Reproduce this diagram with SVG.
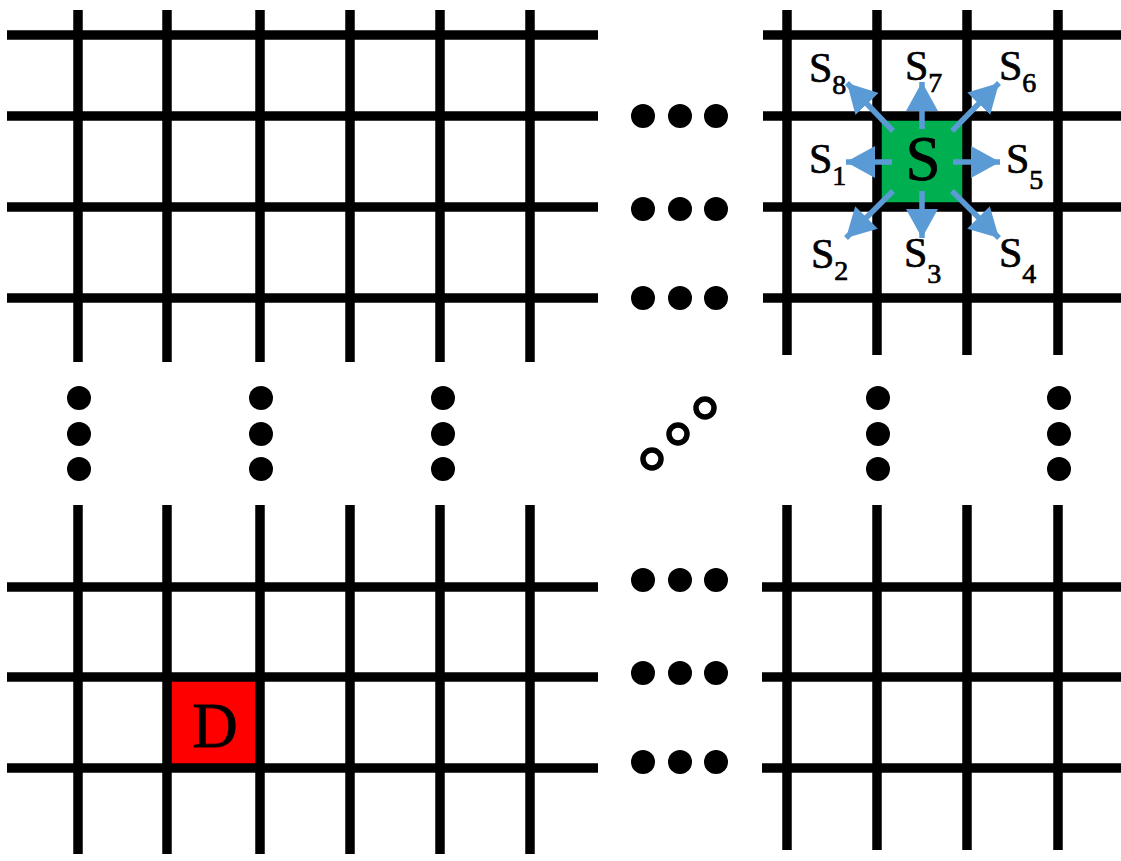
<svg xmlns="http://www.w3.org/2000/svg" width="1121" height="861" viewBox="0 0 1121 861">
<style>
.g line{stroke:#000;stroke-width:9.5;}
.dot{fill:#000;}
.ring{fill:none;stroke:#000;stroke-width:5.5;}
.lbl{font-family:"Liberation Serif","Times New Roman",serif;font-size:42px;fill:#000;stroke:#000;stroke-width:0.7px;}
.sub{font-size:28px;}
.big{font-family:"Liberation Serif","Times New Roman",serif;font-size:63px;fill:#000;stroke:#000;stroke-width:0.8px;text-anchor:middle;}
.arr{stroke:#5B9BD5;stroke-width:5.5;marker-end:url(#ah);}
</style>
<defs>
<marker id="ah" markerUnits="userSpaceOnUse" markerWidth="30" markerHeight="32" refX="29" refY="16" orient="auto">
<path d="M0,0 L29,16 L0,32 Z" fill="#5B9BD5"/>
</marker>
</defs>
<rect width="1121" height="861" fill="#fff"/>

<g id="cell-S-bg"><rect x="877" y="116" width="90" height="91" fill="#00B050"/></g>
<g id="cell-D-bg"><rect x="167" y="677" width="93" height="91" fill="#FF0000"/></g>

<g id="grid-top-left" class="g">
<line x1="7" y1="35" x2="598" y2="35"/>
<line x1="7" y1="116" x2="598" y2="116"/>
<line x1="7" y1="207" x2="598" y2="207"/>
<line x1="7" y1="298" x2="598" y2="298"/>
<line x1="78" y1="10" x2="78" y2="362"/>
<line x1="167" y1="10" x2="167" y2="362"/>
<line x1="260" y1="10" x2="260" y2="362"/>
<line x1="350" y1="10" x2="350" y2="362"/>
<line x1="440" y1="10" x2="440" y2="362"/>
<line x1="530" y1="10" x2="530" y2="362"/>
</g>

<g id="grid-top-right" class="g">
<line x1="763" y1="35" x2="1121" y2="35"/>
<line x1="763" y1="116" x2="1121" y2="116"/>
<line x1="763" y1="207" x2="1121" y2="207"/>
<line x1="763" y1="298" x2="1121" y2="298"/>
<line x1="787" y1="10" x2="787" y2="355"/>
<line x1="877" y1="10" x2="877" y2="355"/>
<line x1="967" y1="10" x2="967" y2="355"/>
<line x1="1058" y1="10" x2="1058" y2="355"/>
</g>

<g id="grid-bottom-left" class="g">
<line x1="7" y1="587" x2="598" y2="587"/>
<line x1="7" y1="677" x2="598" y2="677"/>
<line x1="7" y1="768" x2="598" y2="768"/>
<line x1="78" y1="505" x2="78" y2="854"/>
<line x1="167" y1="505" x2="167" y2="854"/>
<line x1="260" y1="505" x2="260" y2="854"/>
<line x1="350" y1="505" x2="350" y2="854"/>
<line x1="440" y1="505" x2="440" y2="854"/>
<line x1="530" y1="505" x2="530" y2="854"/>
</g>

<g id="grid-bottom-right" class="g">
<line x1="762" y1="587" x2="1121" y2="587"/>
<line x1="762" y1="677" x2="1121" y2="677"/>
<line x1="762" y1="768" x2="1121" y2="768"/>
<line x1="787" y1="505" x2="787" y2="850"/>
<line x1="877" y1="505" x2="877" y2="850"/>
<line x1="967" y1="505" x2="967" y2="850"/>
<line x1="1058" y1="505" x2="1058" y2="850"/>
</g>

<g id="dots-top-middle">
<circle class="dot" cx="643" cy="116" r="12"/><circle class="dot" cx="680" cy="116" r="12"/><circle class="dot" cx="716" cy="116" r="12"/>
<circle class="dot" cx="643" cy="209" r="12"/><circle class="dot" cx="680" cy="209" r="12"/><circle class="dot" cx="716" cy="209" r="12"/>
<circle class="dot" cx="643" cy="298" r="12"/><circle class="dot" cx="680" cy="298" r="12"/><circle class="dot" cx="716" cy="298" r="12"/>
</g>
<g id="dots-bottom-middle">
<circle class="dot" cx="643" cy="580" r="12"/><circle class="dot" cx="680" cy="580" r="12"/><circle class="dot" cx="716" cy="580" r="12"/>
<circle class="dot" cx="643" cy="673" r="12"/><circle class="dot" cx="680" cy="673" r="12"/><circle class="dot" cx="716" cy="673" r="12"/>
<circle class="dot" cx="643" cy="762" r="12"/><circle class="dot" cx="680" cy="762" r="12"/><circle class="dot" cx="716" cy="762" r="12"/>
</g>
<g id="dots-vertical">
<circle class="dot" cx="79" cy="398" r="12"/><circle class="dot" cx="79" cy="434" r="12"/><circle class="dot" cx="79" cy="469" r="12"/>
<circle class="dot" cx="261" cy="398" r="12"/><circle class="dot" cx="261" cy="434" r="12"/><circle class="dot" cx="261" cy="469" r="12"/>
<circle class="dot" cx="443" cy="398" r="12"/><circle class="dot" cx="443" cy="434" r="12"/><circle class="dot" cx="443" cy="469" r="12"/>
<circle class="dot" cx="878" cy="398" r="12"/><circle class="dot" cx="878" cy="434" r="12"/><circle class="dot" cx="878" cy="469" r="12"/>
<circle class="dot" cx="1059" cy="398" r="12"/><circle class="dot" cx="1059" cy="434" r="12"/><circle class="dot" cx="1059" cy="469" r="12"/>
</g>
<g id="dots-diagonal">
<circle class="ring" cx="705" cy="408" r="9"/>
<circle class="ring" cx="678" cy="434" r="9"/>
<circle class="ring" cx="652" cy="459" r="9"/>
</g>

<g id="connectors">
<line class="arr" x1="892" y1="162" x2="846" y2="162"/>
<line class="arr" x1="953" y1="162" x2="1000" y2="162"/>
<line class="arr" x1="922" y1="129" x2="922" y2="82"/>
<line class="arr" x1="922" y1="191" x2="922" y2="238"/>
<line class="arr" x1="893" y1="131" x2="847" y2="83"/>
<line class="arr" x1="952" y1="131" x2="999" y2="83"/>
<line class="arr" x1="893" y1="191" x2="846" y2="238"/>
<line class="arr" x1="952" y1="191" x2="999" y2="238"/>
</g>

<g id="node-S"><text class="big" x="923" y="180">S</text></g>
<g id="node-D"><text class="big" x="215" y="747">D</text></g>

<g id="label-S8"><text class="lbl" x="809" y="82">S<tspan class="sub" dy="12">8</tspan></text></g>
<g id="label-S7"><text class="lbl" x="905" y="80">S<tspan class="sub" dy="12">7</tspan></text></g>
<g id="label-S6"><text class="lbl" x="999" y="80">S<tspan class="sub" dy="12">6</tspan></text></g>
<g id="label-S1"><text class="lbl" x="809" y="173">S<tspan class="sub" dy="12">1</tspan></text></g>
<g id="label-S5"><text class="lbl" x="1006" y="173">S<tspan class="sub" dy="16">5</tspan></text></g>
<g id="label-S2"><text class="lbl" x="811" y="268">S<tspan class="sub" dy="12">2</tspan></text></g>
<g id="label-S3"><text class="lbl" x="904" y="267">S<tspan class="sub" dy="16">3</tspan></text></g>
<g id="label-S4"><text class="lbl" x="999" y="267">S<tspan class="sub" dy="16">4</tspan></text></g>
</svg>
